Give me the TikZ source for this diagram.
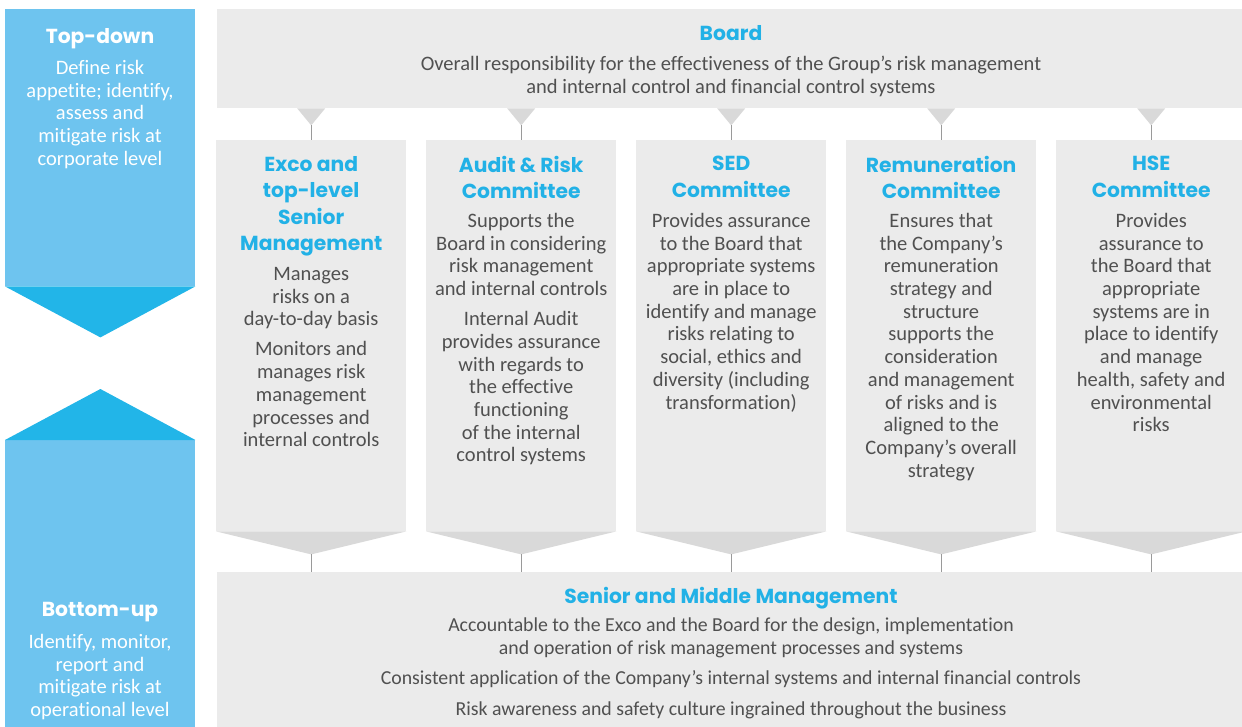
\documentclass[tikz,border=0pt]{standalone}
\usepackage{fontspec}
\setmainfont{Carlito}[Ligatures=CommonOff]
\newfontfamily\headfont{Poppins}
\usepackage{tikz}
\usetikzlibrary{positioning, calc}
\definecolor{topblue}{HTML}{6EC4EF}
\definecolor{arrowblue}{HTML}{22B5E8}
\definecolor{headblue}{HTML}{22B1E6}
\definecolor{panelgray}{HTML}{EBEBEB}
\definecolor{chevgray}{HTML}{D9D9D9}
\definecolor{linkgray}{HTML}{9A9A9A}
\definecolor{bodygray}{HTML}{505050}
\tikzstyle{panel} = [rectangle, fill=panelgray, inner sep=0pt, anchor=north west]
\tikzstyle{sidebox} = [rectangle, fill=topblue, inner sep=0pt, anchor=north west, minimum width=190pt]
\tikzstyle{heading} = [font=\headfont\bfseries\fontsize{20.3}{26.5}\selectfont, text=headblue, align=center, inner sep=0pt, anchor=north]
\tikzstyle{sidehead} = [heading, text=white]
\tikzstyle{blurb} = [font=\fontsize{20.5}{22.7}\selectfont, text=bodygray, align=center, inner sep=0pt, anchor=north]
\tikzstyle{sideblurb} = [blurb, text=white]
\tikzstyle{link} = [draw=linkgray, line width=1pt]

\begin{document}
\begin{tikzpicture}[x=1pt, y=-1pt]
    \useasboundingbox (0,0) rectangle (1242,727);

    % Side arrows
    \node[sidebox, minimum height=277pt] (topdown) at (5,9) {};
    \fill[arrowblue] (topdown.south west) -- (topdown.south east) -- ++(-95,51) -- cycle;
    \node[sidebox, minimum height=287pt] (bottomup) at (5,440) {};
    \fill[arrowblue] (bottomup.north west) -- (bottomup.north east) -- ++(-95,-51) -- cycle;
    \node[sidehead] (tdhead) at (100,28) {Top-down};
    \node[sideblurb] (tdtext) at (100,60) {Define risk\\appetite; identify,\\assess and\\mitigate risk at\\corporate level};
    \node[sidehead] (buhead) at (100,602) {Bottom-up};
    \node[sideblurb] (butext) at (100,634) {Identify, monitor,\\report and\\mitigate risk at\\operational level};

    % Board
    \node[panel, minimum width=1025pt, minimum height=99pt] (board) at (217,9) {};
    \node[heading] (boardhead) at (731,25) {Board};
    \node[blurb] (boardtext) at (731,56) {Overall responsibility for the effectiveness of the Group’s risk management\\and internal control and financial control systems};

    % Senior and middle management
    \node[panel, minimum width=1025pt, minimum height=155pt] (mgmt) at (217,572) {};
    \node[heading] (mgmthead) at (731,587) {Senior and Middle Management};
    \node[blurb, font=\fontsize{19.8}{22.7}\selectfont] (mgmttext) at (731,618) {Accountable to the Exco and the Board for the design, implementation\\and operation of risk management processes and systems\\[7.5pt]Consistent application of the Company’s internal systems and internal financial controls\\[8pt]Risk awareness and safety culture ingrained throughout the business};

    % Committees
    \foreach \i/\x in {1/216, 2/426, 3/636, 4/846, 5/1056} {
        \node[panel, minimum width=190pt, minimum height=391pt] (col\i) at (\x,140) {};
        \fill[chevgray] (col\i.south west) -- (col\i.south east) -- ($(col\i.south)+(0,23)$) coordinate (foot\i) -- cycle;
        \fill[chevgray] (board.south -| col\i.north) ++(-14,0) -- ++(28,0) -- ++(-14,17) coordinate (tip\i) -- cycle;
        \draw[link] (tip\i) -- (col\i.north);
        \draw[link] (foot\i) -- (foot\i |- mgmt.north);
    }

    \node[heading, below=16pt of col1.north] (excohead) {Exco and\\top-level\\Senior\\Management};
    \node[blurb, below=127pt of col1.north] (excotext) {Manages\\risks on a\\day-to-day basis\\[7.5pt]Monitors and\\manages risk\\management\\processes and\\internal controls};

    \node[heading, below=16pt of col2.north] (audithead) {Audit \& Risk\\Committee};
    \node[blurb, below=73pt of col2.north] (audittext) {Supports the\\Board in considering\\risk management\\and internal controls\\[7.5pt]Internal Audit\\provides assurance\\with regards to\\the effective\\functioning\\of the internal\\control systems};

    \node[heading, below=16pt of col3.north] (sedhead) {SED\\Committee};
    \node[blurb, below=73pt of col3.north] (sedtext) {Provides assurance\\to the Board that\\appropriate systems\\are in place to\\identify and manage\\risks relating to\\social, ethics and\\diversity (including\\transformation)};

    \node[heading, below=16pt of col4.north] (remhead) {Remuneration\\Committee};
    \node[blurb, below=73pt of col4.north] (remtext) {Ensures that\\the Company’s\\remuneration\\strategy and\\structure\\supports the\\consideration\\and management\\of risks and is\\aligned to the\\Company’s overall\\strategy};

    \node[heading, below=16pt of col5.north] (hsehead) {HSE\\Committee};
    \node[blurb, below=73pt of col5.north] (hsetext) {Provides\\assurance to\\the Board that\\appropriate\\systems are in\\place to identify\\and manage\\health, safety and\\environmental\\risks};

\end{tikzpicture}
\end{document}
